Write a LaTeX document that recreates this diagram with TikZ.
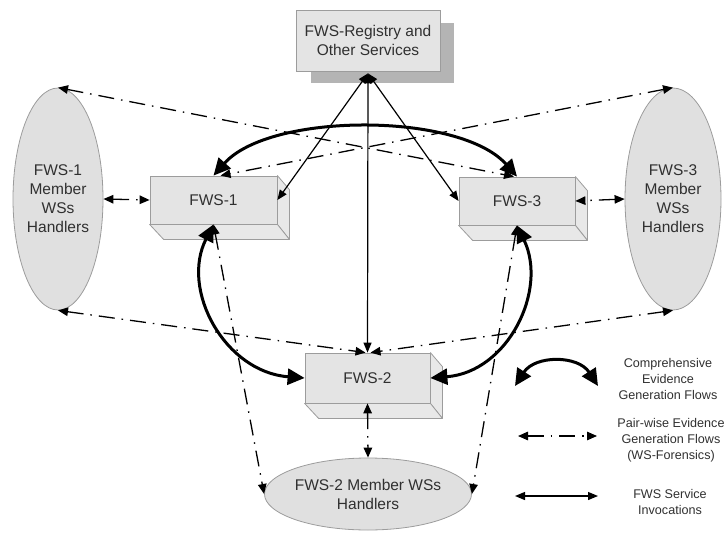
\documentclass[tikz,border=0pt]{standalone}
\usepackage{fontspec}
\setmainfont{Liberation Sans}
\usetikzlibrary{arrows.meta,shapes.geometric,calc}
\definecolor{boxfill}{HTML}{E4E4E4}
\definecolor{sidefill}{HTML}{E8E8E8}
\definecolor{edgecol}{HTML}{9C9C9C}
\definecolor{shadowcol}{HTML}{B4B4B4}
\definecolor{ellfill}{HTML}{E0E0E0}
\definecolor{txtcol}{HTML}{303030}
\begin{document}
\begin{tikzpicture}[x=1pt,y=-1pt,
  txt/.style={font=\fontsize{15.5}{19}\selectfont, text=txtcol, align=center},
  legtxt/.style={font=\fontsize{12.6}{16}\selectfont, text=txtcol, align=center},
  front/.style={txt, draw=edgecol, fill=boxfill, line width=0.8pt, inner sep=0pt},
  boxside/.style={draw=edgecol, fill=sidefill, line width=0.8pt, line join=round},
  ell/.style={txt, ellipse, draw=edgecol, fill=ellfill, line width=0.8pt, inner sep=0pt},
  thick flow/.style={line width=3pt, {Triangle[length=17pt,width=16pt]}-{Triangle[length=17pt,width=16pt]}},
  invoke/.style={line width=1.2pt, {Triangle[length=10pt,width=8pt]}-{Triangle[length=10pt,width=8pt]}},
  pairflow/.style={line width=1.3pt, dash pattern=on 16pt off 7pt on 1.5pt off 7pt,
    {Triangle[length=10pt,width=8.5pt]}-{Triangle[length=10pt,width=8.5pt]}}]
\useasboundingbox (0,0) rectangle (727,537);

% registry
\fill[shadowcol] (311,23) rectangle (454,83);
\node[front, minimum width=144pt, minimum height=61pt] (reg) at (368,40.5)
  {FWS-Registry and\\Other Services};

% FWS boxes
\node[front, minimum width=127pt, minimum height=48pt] (f1) at (213.5,200) {FWS-1};
\node[front, minimum width=116pt, minimum height=48pt] (f3) at (517,201) {FWS-3};
\node[front, minimum width=125pt, minimum height=50pt] (f2) at (367.5,378) {FWS-2};
\foreach \b in {f1,f2,f3}{
  \draw[boxside] (\b.north east) -- ++(12,14) -- ($(\b.south east)+(12,15)$) -- (\b.south east) -- cycle;
  \draw[boxside] (\b.south west) -- (\b.south east) -- ($(\b.south east)+(12,15)$) -- ($(\b.south west)+(14,15)$) -- cycle;
}

% member ellipses
\node[ell, minimum width=90pt, minimum height=222pt] (e1) at (58,199)
  {FWS-1\\Member\\WSs\\Handlers};
\node[ell, minimum width=96pt, minimum height=222pt] (e3) at (673,199)
  {FWS-3\\Member\\WSs\\Handlers};
\node[ell, minimum width=200pt, minimum height=72pt] (e2) at (368,494)
  {FWS-2 Member WSs\\Handlers};

% pair-wise flows
\draw[pairflow] (e1.north) -- ([xshift=-3pt]f3.north);
\draw[pairflow] (e3.north) -- ([xshift=7pt]f1.north);
\draw[pairflow] (e1.east) -- (f1.west);
\draw[pairflow] (e3.west) -- (f3.east);
\draw[pairflow] (e1.south) -- ([xshift=-2pt]f2.north);
\draw[pairflow] (e3.south) -- ([xshift=3pt]f2.north);
\draw[pairflow] (f1.south) -- (e2.west);
\draw[pairflow] (f3.south) -- (e2.east);
\draw[pairflow] (f2.south) -- (e2.north);

% service invocations
\coordinate (rs) at ($(reg.south)+(0,2)$);
\draw[invoke] (rs) -- (f1.east);
\draw[invoke] (rs) -- (f3.west);
\draw[invoke] (rs) -- (f2.north);

% comprehensive flows
\draw[thick flow] (f1.north) .. controls (270,112) and (460,112) .. (f3.north);
\draw[thick flow] (f1.south) .. controls (180,290) and (225,372) .. (f2.west);
\draw[thick flow] (f3.south) .. controls (548,290) and (508,372) .. (f2.east);

% legend
\coordinate (la1) at (515,386); \coordinate (lb1) at (598,386);
\coordinate (la2) at (518,436); \coordinate (lb2) at (597,436);
\coordinate (la3) at (515,496); \coordinate (lb3) at (598,496);
\draw[thick flow] (la1) .. controls (535,355) and (578,355) .. (lb1);
\draw[pairflow] (la2) -- (lb2);
\draw[invoke] (la3) -- (lb3);
\node[legtxt] (lt1) at (668,379) {Comprehensive\\Evidence\\Generation Flows};
\node[legtxt] (lt2) at (671,440) {Pair-wise Evidence\\Generation Flows\\(WS-Forensics)};
\node[legtxt] (lt3) at (670,502) {FWS Service\\Invocations};
\end{tikzpicture}
\end{document}
